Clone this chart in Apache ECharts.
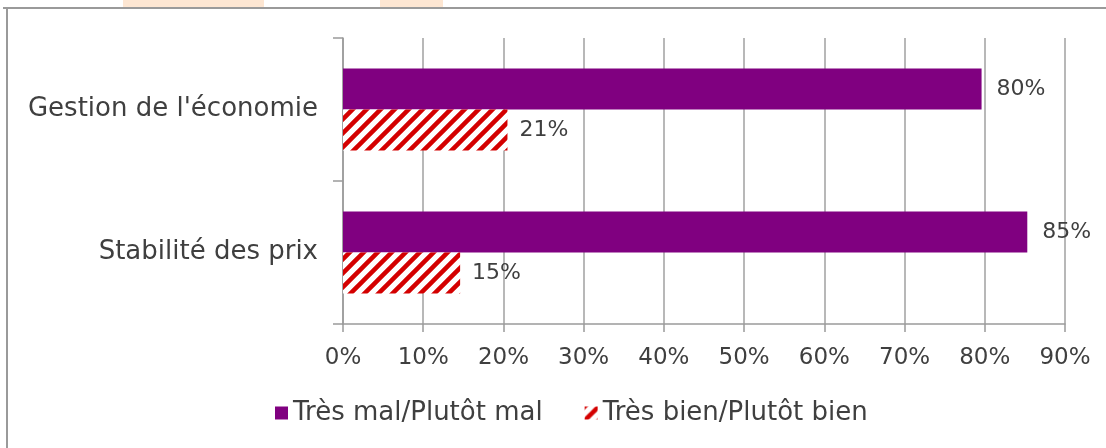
<!DOCTYPE html>
<html>
<head>
<meta charset="utf-8">
<script src="https://cdn.jsdelivr.net/npm/echarts@6/dist/echarts.min.js"></script>
<style>
html, body { margin: 0; padding: 0; background: #fff; }
#main { width: 1106px; height: 448px; }
</style>
</head>
<body>
<div id="main"></div>
<script>
// données
var categories = ['Gestion de l\'économie', 'Stabilité des prix']
var seriesNames = ['Très mal/Plutôt mal', 'Très bien/Plutôt bien']
var malValues = [79.6, 85.3]
var bienValues = [20.5, 14.6]
var xTicks = [0, 10, 20, 30, 40, 50, 60, 70, 80, 90]

// motif hachuré rouge
function makeHatch() {
  var c = document.createElement('canvas')
  var s = 14
  c.width = s
  c.height = s
  var ctx = c.getContext('2d')
  ctx.fillStyle = '#ffffff'
  ctx.fillRect(0, 0, s, s)
  ctx.strokeStyle = '#d40000'
  ctx.lineWidth = 4.5
  ctx.beginPath()
  ctx.moveTo(-s, 2 * s); ctx.lineTo(2 * s, -s)
  ctx.moveTo(-2 * s, 2 * s); ctx.lineTo(s, -s)
  ctx.moveTo(0, 2 * s); ctx.lineTo(3 * s, -s)
  ctx.stroke()
  return c
}

var textColor = '#3f3f3f'
var font = 'DejaVu Sans'
var chartDom = document.getElementById('main')
var myChart = echarts.init(chartDom)
var option

option = {
  animation: false,
  textStyle: { fontFamily: font },
  graphic: [
    { type: 'rect', shape: { x: 123, y: 0, width: 141, height: 8 }, style: { fill: '#fde6d2' }, silent: true },
    { type: 'rect', shape: { x: 380, y: 0, width: 63, height: 8 }, style: { fill: '#fde6d2' }, silent: true },
    { type: 'line', shape: { x1: 3, y1: 8, x2: 1106, y2: 8 }, style: { stroke: '#9a9a9a', lineWidth: 2 }, silent: true },
    { type: 'line', shape: { x1: 7, y1: 8, x2: 7, y2: 448 }, style: { stroke: '#9a9a9a', lineWidth: 2 }, silent: true }
  ],
  legend: {
    bottom: 17,
    left: 270,
    icon: 'rect',
    itemWidth: 13,
    itemHeight: 13,
    itemGap: 42,
    textStyle: { fontSize: 26, color: textColor, fontFamily: font },
    data: seriesNames
  },
  grid: {
    left: 343,
    right: 41,
    top: 38,
    bottom: 124,
    containLabel: false
  },
  xAxis: {
    type: 'value',
    min: 0,
    max: 90,
    interval: 10,
    axisLine: { show: true, lineStyle: { color: '#9a9a9a', width: 1.5 } },
    axisTick: { show: true, length: 8, lineStyle: { color: '#9a9a9a', width: 1.5 } },
    splitLine: { show: true, lineStyle: { color: '#a0a0a0', width: 1.5 } },
    axisLabel: {
      margin: 23,
      fontSize: 23,
      color: textColor,
      fontFamily: font,
      formatter: function (v) { return xTicks.indexOf(v) >= 0 ? v + '%' : '' }
    }
  },
  yAxis: {
    type: 'category',
    inverse: true,
    data: categories,
    axisLine: { show: true, lineStyle: { color: '#9a9a9a', width: 1.5 } },
    axisTick: { show: true, length: 10, lineStyle: { color: '#9a9a9a', width: 1.5 } },
    axisLabel: { margin: 25, fontSize: 26, color: textColor, fontFamily: font }
  },
  series: [
    {
      name: seriesNames[0],
      type: 'bar',
      data: malValues,
      barWidth: 41,
      barGap: '0%',
      itemStyle: { color: '#800080' },
      label: {
        show: true,
        position: 'right',
        distance: 15,
        fontSize: 22,
        color: textColor,
        fontFamily: font,
        formatter: function (p) { return Math.round(p.value) + '%' }
      }
    },
    {
      name: seriesNames[1],
      type: 'bar',
      data: bienValues,
      barWidth: 41,
      barGap: '0%',
      itemStyle: { color: { image: makeHatch(), repeat: 'repeat' } },
      label: {
        show: true,
        position: 'right',
        distance: 12,
        fontSize: 22,
        color: textColor,
        fontFamily: font,
        formatter: function (p) { return Math.round(p.value) + '%' }
      }
    }
  ]
}
option && myChart.setOption(option)
</script>
</body>
</html>
